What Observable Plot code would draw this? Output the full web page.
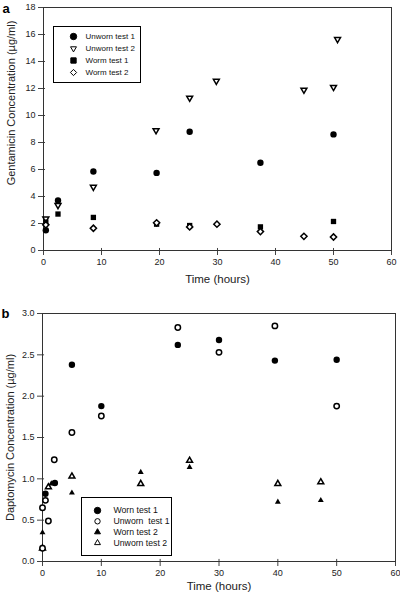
<!DOCTYPE html>
<html><head><meta charset="utf-8">
<script src="https://cdn.jsdelivr.net/npm/d3@7"></script>
<script src="https://cdn.jsdelivr.net/npm/@observablehq/plot@0.6"></script>
<style>
body{margin:0;background:#fff;font-family:"Liberation Sans",Arial,sans-serif;}
#wrap{position:relative;width:400px;height:593px;overflow:hidden;}
#a,#b{position:absolute;left:0;}
#a{top:0}#b{top:290px}
</style></head><body><div id="wrap"><div id="a"></div><div id="b"></div></div>
<script>
// ---------- Panel a: Gentamicin ----------
const xTicks = [0, 10, 20, 30, 40, 50, 60];
const yTicksA = [0, 2, 4, 6, 8, 10, 12, 14, 16, 18];
const unworn1A_x = [0.4, 2.5, 8.6, 19.5, 25.2, 37.4, 50];
const unworn1A_y = [1.5, 3.7, 5.85, 5.75, 8.8, 6.5, 8.6];
const unworn2A_x = [0.4, 2.5, 8.6, 19.4, 25.2, 29.8, 44.9, 50, 50.7];
const unworn2A_y = [2.35, 3.35, 4.7, 8.9, 11.3, 12.55, 11.9, 12.1, 15.65];
const worn1A_x = [0.4, 2.5, 8.6, 19.5, 25.2, 37.4, 50];
const worn1A_y = [2.1, 2.7, 2.45, 1.95, 1.85, 1.75, 2.15];
const worn2A_x = [0.4, 8.6, 19.5, 25.2, 29.9, 37.4, 44.9, 50];
const worn2A_y = [1.9, 1.65, 2.05, 1.75, 1.95, 1.4, 1.05, 1.0];
const legendA = ["Unworn test 1", "Unworn test 2", "Worm test 1", "Worm test 2"];

// ---------- Panel b: Daptomycin ----------
const yTicksB = [0, 0.5, 1.0, 1.5, 2.0, 2.5, 3.0];
const worn1B_x = [0.5, 2.1, 5, 10, 23, 30, 39.5, 50];
const worn1B_y = [0.82, 0.95, 2.38, 1.88, 2.62, 2.68, 2.43, 2.44];
const unworn1B_x = [0, 0, 0.5, 1, 2, 5, 10, 23, 30, 39.5, 50];
const unworn1B_y = [0.16, 0.65, 0.74, 0.49, 1.23, 1.56, 1.76, 2.83, 2.53, 2.85, 1.88];
const worn2B_x = [0, 1.5, 5, 16.7, 25, 40, 47.3];
const worn2B_y = [0.35, 0.94, 0.83, 1.08, 1.14, 0.72, 0.74];
const unworn2B_x = [0, 1, 5, 16.7, 25, 40, 47.3];
const unworn2B_y = [0.16, 0.9, 1.03, 0.94, 1.22, 0.94, 0.96];
const legendB = ["Worn test 1", "Unworn  test 1", "Worn test 2", "Unworn test 2"];

const pts = (xs, ys) => xs.map((x, i) => ({x, y: ys[i]}));
const sqrt3 = Math.sqrt(3);
const triangleDown = {
  draw(ctx, size) {
    const y = -Math.sqrt(size / (sqrt3 * 3));
    ctx.moveTo(0, -y * 2);
    ctx.lineTo(-sqrt3 * y, y);
    ctx.lineTo(sqrt3 * y, y);
    ctx.closePath();
  }
};
const FONT = "'Liberation Sans', Arial, sans-serif";
const RF = 3.2;   // filled circle
const RO = 2.7;   // open circle
const RT = 2.2;   // triangles
const RS = 3.0;   // square
const RD = 2.8;   // diamond

function legendMarks(labels, styles, {dx, dy0, step, tx, fontSize}) {
  return labels.flatMap((label, i) => [
    Plot.dot([label], {x: null, y: null, frameAnchor: "top-left", dx, dy: dy0 + i * step,
      symbol: styles[i].symbol, fill: styles[i].fill, stroke: "black", strokeWidth: 1, r: styles[i].r}),
    Plot.text([label], {frameAnchor: "top-left", dx: tx, dy: dy0 + i * step, text: d => d,
      textAnchor: "start", lineAnchor: "middle", fontSize, fill: "#111"})
  ]);
}

// Panel a
const stylesA = [
  {symbol: "circle", fill: "black", r: RF},
  {symbol: triangleDown, fill: "white", r: RT},
  {symbol: "square", fill: "black", r: RS},
  {symbol: "diamond2", fill: "white", r: RD}
];
const plotA = Plot.plot({
  width: 400, height: 290,
  marginTop: 7, marginLeft: 43, marginRight: 9, marginBottom: 40,
  style: {fontFamily: FONT, fontSize: "9px", color: "#222", background: "white", overflow: "visible"},
  x: {domain: [0, 60]},
  y: {domain: [0, 18]},
  marks: [
    Plot.axisX(xTicks, {tickSize: 5, tickPadding: 3, label: null, stroke: "#444"}),
    Plot.axisY(yTicksA, {tickSize: 5, tickPadding: 3, label: null, stroke: "#444"}),
    Plot.ruleY(yTicksA, {x1: 0, x2: 0.35, stroke: "#444"}),
    Plot.ruleX(xTicks, {y1: 0, y2: 0.15, stroke: "#444"}),
    Plot.frame({stroke: "#333"}),
    Plot.dot(pts(unworn2A_x, unworn2A_y), {x: "x", y: "y", symbol: triangleDown, r: RT, fill: "white", stroke: "black"}),
    Plot.dot(pts(worn1A_x, worn1A_y), {x: "x", y: "y", symbol: "square", r: RS, fill: "black"}),
    Plot.dot(pts(worn2A_x, worn2A_y), {x: "x", y: "y", symbol: "diamond2", r: RD, fill: "white", stroke: "black"}),
    Plot.dot(pts(unworn1A_x, unworn1A_y), {x: "x", y: "y", symbol: "circle", r: RF, fill: "black"}),
    Plot.frame({insetLeft: 10, insetTop: 19, insetRight: 251, insetBottom: 168, stroke: "black", fill: "white"}),
    ...legendMarks(legendA, stylesA, {dx: 30, dy0: 29, step: 12, tx: 42, fontSize: 8}),
    Plot.text(["Gentamicin Concentration (µg/ml)"], {frameAnchor: "left", dx: -32, dy: -26, rotate: -90,
      text: d => d, fontSize: 11, fill: "#222", textAnchor: "middle", lineAnchor: "middle"}),
    Plot.text(["Time (hours)"], {frameAnchor: "bottom", dy: 29, text: d => d, fontSize: 11.5, fill: "#222", lineAnchor: "middle"}),
    Plot.text(["a"], {frameAnchor: "top-left", dx: -41, dy: 1, text: d => d, fontSize: 13, fontWeight: "bold",
      fill: "black", textAnchor: "start", lineAnchor: "middle"})
  ]
});
document.getElementById("a").append(plotA);

// Panel b
const stylesB = [
  {symbol: "circle", fill: "black", r: RF},
  {symbol: "circle", fill: "white", r: RO},
  {symbol: "triangle", fill: "black", r: RT},
  {symbol: "triangle", fill: "white", r: RT}
];
const plotB = Plot.plot({
  width: 400, height: 303,
  marginTop: 23, marginLeft: 42, marginRight: 5, marginBottom: 32,
  style: {fontFamily: FONT, fontSize: "9px", color: "#222", background: "white", overflow: "visible"},
  x: {domain: [0, 60]},
  y: {domain: [0, 3]},
  marks: [
    Plot.axisX(xTicks, {tickSize: 5, tickPadding: 3, label: null, stroke: "#444"}),
    Plot.axisY(yTicksB, {tickSize: 5, tickPadding: 3, label: null, stroke: "#444", tickFormat: d3.format(".1f")}),
    Plot.ruleY(yTicksB, {x1: 0, x2: 0.35, stroke: "#444"}),
    Plot.ruleX(xTicks, {y1: 0, y2: 0.025, stroke: "#444"}),
    Plot.frame({stroke: "#333"}),
    Plot.dot(pts(unworn2B_x, unworn2B_y), {x: "x", y: "y", symbol: "triangle", r: RT, fill: "white", stroke: "black"}),
    Plot.dot(pts(worn2B_x, worn2B_y), {x: "x", y: "y", symbol: "triangle", r: RT, fill: "black"}),
    Plot.dot(pts(unworn1B_x, unworn1B_y), {x: "x", y: "y", symbol: "circle", r: RO, fill: "white", stroke: "black"}),
    Plot.dot(pts(worn1B_x, worn1B_y), {x: "x", y: "y", symbol: "circle", r: RF, fill: "black"}),
    Plot.frame({insetLeft: 39, insetTop: 184, insetRight: 224, insetBottom: 6, stroke: "black", fill: "white"}),
    ...legendMarks(legendB, stylesB, {dx: 55, dy0: 197, step: 10.8, tx: 71, fontSize: 8.7}),
    Plot.text(["Daptomycin Concentration (µg/ml)"], {frameAnchor: "left", dx: -32, dy: 0, rotate: -90,
      text: d => d, fontSize: 11, fill: "#222", textAnchor: "middle", lineAnchor: "middle"}),
    Plot.text(["Time (hours)"], {frameAnchor: "bottom", dy: 25, text: d => d, fontSize: 11.5, fill: "#222", lineAnchor: "middle"}),
    Plot.text(["b"], {frameAnchor: "top-left", dx: -41, dy: 0, text: d => d, fontSize: 13, fontWeight: "bold",
      fill: "black", textAnchor: "start", lineAnchor: "middle"})
  ]
});
document.getElementById("b").append(plotB);
</script>
</body></html>
